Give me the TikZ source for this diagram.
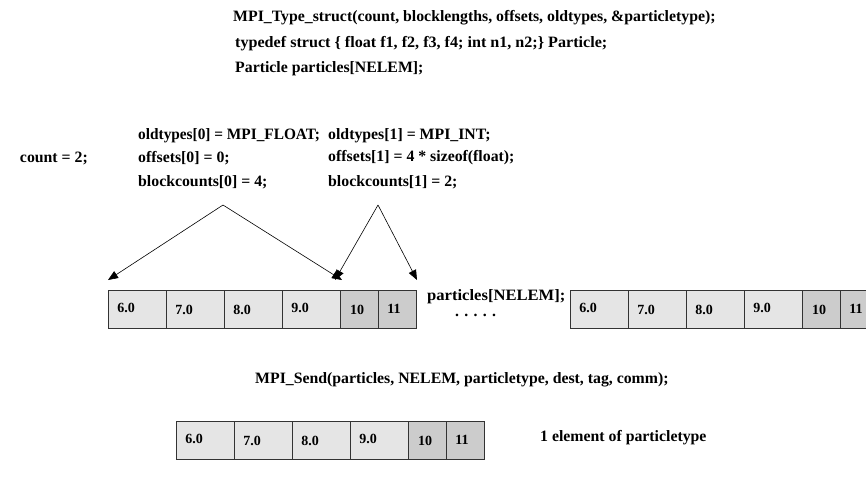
\documentclass[tikz,border=0pt]{standalone}
\usepackage{fontspec}
\setmainfont{Liberation Serif}
\usetikzlibrary{arrows.meta}
\newcommand{\hsq}[2]{\scalebox{#1}[1]{#2}}
\begin{document}
\begin{tikzpicture}[x=1pt,y=-1pt,
  txt/.style={anchor=west,inner sep=0pt,font=\bfseries\fontsize{15.8}{18}\selectfont},
  cellbase/.style={draw=black!80,line width=0.8pt,minimum height=38pt,inner sep=0pt,outer sep=0pt,anchor=west},
  cellf/.style={cellbase,fill=black!10,minimum width=58pt},
  celli/.style={cellbase,fill=black!20,minimum width=38pt},
  num/.style={font=\bfseries\fontsize{14}{16}\selectfont,inner sep=0pt},
  arr/.style={-{Triangle[length=10pt,width=8pt]},line width=0.6pt}]
\useasboundingbox (0,0) rectangle (866,480);
\clip (0,0) rectangle (866,480);

\node[txt] (l1) at (233,18) {MPI\_Type\_struct(count, blocklengths, offsets, oldtypes, \&particletype);};
\node[txt] (l2) at (235,44) {\hsq{1.02}{typedef struct \{ float f1, f2, f3, f4; int n1, n2;\} Particle;}};
\node[txt] (l3) at (235,69) {Particle particles[NELEM];};

\node[txt,anchor=east] (cnt) at (88,158) {count = 2;};
\node[txt] (a1) at (138,136) {\hsq{0.97}{oldtypes[0] = MPI\_FLOAT;}};
\node[txt] (a2) at (138,158) {offsets[0] = 0;};
\node[txt] (a3) at (138,182) {blockcounts[0] = 4;};
\node[txt] (b1) at (328,136) {oldtypes[1] = MPI\_INT;};
\node[txt] (b2) at (328,158) {offsets[1] = 4 * sizeof(float);};
\node[txt] (b3) at (328,182) {blockcounts[1] = 2;};

% row 1
\node[cellf] (r1c1) at (108,309) {};
\node[cellf] (r1c2) at (r1c1.east) {};
\node[cellf] (r1c3) at (r1c2.east) {};
\node[cellf] (r1c4) at (r1c3.east) {};
\node[celli] (r1c5) at (r1c4.east) {};
\node[celli] (r1c6) at (r1c5.east) {};
% row 2
\node[cellf] (r2c1) at (570,309) {};
\node[cellf] (r2c2) at (r2c1.east) {};
\node[cellf] (r2c3) at (r2c2.east) {};
\node[cellf] (r2c4) at (r2c3.east) {};
\node[celli] (r2c5) at (r2c4.east) {};
\node[celli] (r2c6) at (r2c5.east) {};
% row 3
\node[cellf] (r3c1) at (176,440) {};
\node[cellf] (r3c2) at (r3c1.east) {};
\node[cellf] (r3c3) at (r3c2.east) {};
\node[cellf] (r3c4) at (r3c3.east) {};
\node[celli] (r3c5) at (r3c4.east) {};
\node[celli] (r3c6) at (r3c5.east) {};

\foreach \r in {1,2,3}{
  \node[num] at ([xshift=-11pt,yshift=0.6pt]r\r c1.center) {6.0};
  \node[num] at ([xshift=-11pt,yshift=-0.6pt]r\r c2.center) {7.0};
  \node[num] at ([xshift=-11pt,yshift=-0.6pt]r\r c3.center) {8.0};
  \node[num] at ([xshift=-11pt,yshift=0.6pt]r\r c4.center) {9.0};
  \node[num] at ([xshift=-2pt,yshift=-0.6pt]r\r c5.center) {10};
  \node[num] at ([xshift=-3pt,yshift=0.6pt]r\r c6.center) {11};
}

\node[txt] (pn) at (427,297) {\hsq{1.05}{particles[NELEM];}};
\node[txt] (dots) at (455,315) {. . . . .};

\node[txt] (send) at (255,380) {MPI\_Send(particles, NELEM, particletype, dest, tag, comm);};
\node[txt] (elem) at (540,438) {1 element of particletype};

% arrows
\coordinate (apA) at (223,205);
\coordinate (apB) at (378,205);
\draw[arr] (apA) -- ([yshift=10pt]r1c1.north west);
\draw[arr] (apA) -- ([xshift=2pt,yshift=10pt]r1c4.north east);
\draw[arr] (apB) -- ([xshift=-5pt,yshift=10pt]r1c5.north west);
\draw[arr] (apB) -- ([xshift=1pt,yshift=10pt]r1c6.north east);
\end{tikzpicture}
\end{document}
